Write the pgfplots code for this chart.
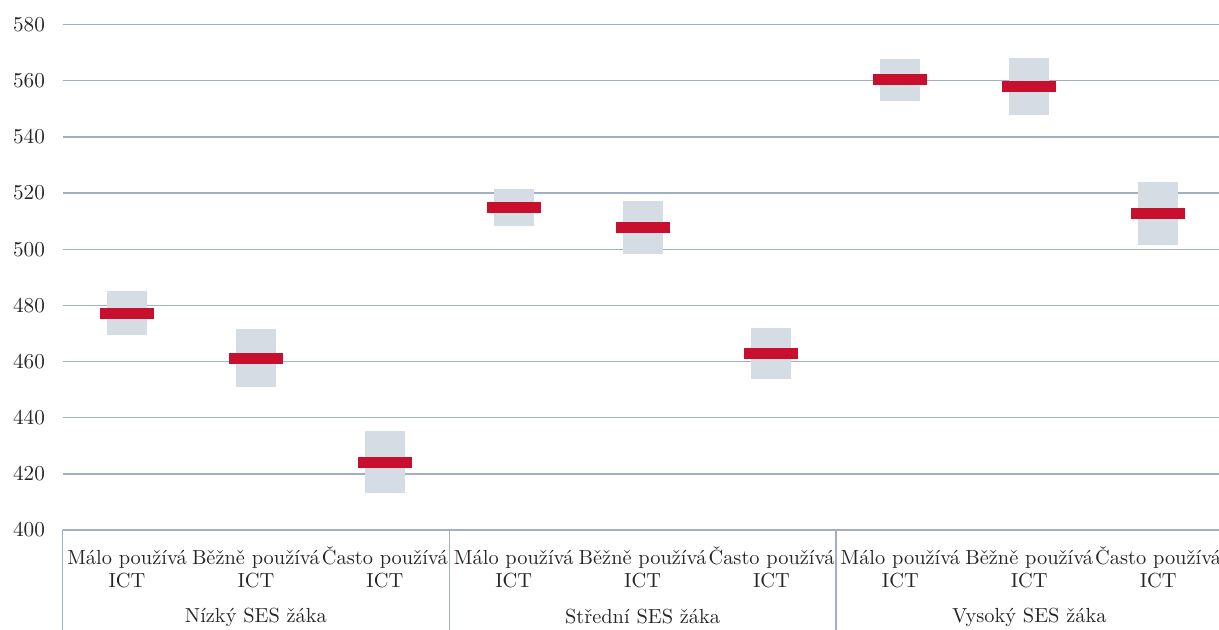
\documentclass[border=0pt]{standalone}
\usepackage{pgfplots}
\pgfplotsset{compat=1.18}
\usepackage{pgfplotstable}
\definecolor{gridc}{HTML}{A2AEC2}
\definecolor{boxc}{HTML}{D6DCE4}
\definecolor{redc}{HTML}{C8102E}
\definecolor{txt}{HTML}{262626}
\pgfplotstableread{
x lo hi mean
1 469.5 485.1 477.2
2 450.8 471.5 461.1
3 413.1 435.3 424.1
4 508.4 521.5 515.0
5 498.2 517.3 507.8
6 453.8 472.1 462.9
7 552.9 567.8 560.5
8 547.9 568.0 558.1
9 501.6 523.8 512.8
}\data
\newcommand{\lab}[1]{\rule{0pt}{10pt}#1\\ICT}
\begin{document}
\begin{tikzpicture}
\begin{axis}[
  scale only axis,
  width=580pt, height=252.65pt,
  xmin=0.5, xmax=9.5, ymin=400, ymax=580,
  ytick={400,420,...,580},
  xtick={1,...,9},
  xticklabels={{\lab{Málo používá}},{\lab{Běžně používá}},{\lab{Často používá}},{\lab{Málo používá}},{\lab{Běžně používá}},{\lab{Často používá}},{\lab{Málo používá}},{\lab{Běžně používá}},{\lab{Často používá}}},
  xticklabel style={align=center, anchor=north, inner sep=0pt, yshift=-7pt, font=\fontsize{10.2}{11.5}\selectfont, text=txt},
  yticklabel style={font=\fontsize{10.6}{13}\selectfont, text=txt, xshift=-5.3pt},
  /pgf/number format/assume math mode=true,
  major tick length=0pt,
  axis line style={draw=none},
  ymajorgrids,
  grid style={gridc, line width=0.65pt},
  clip=false,
]
\addplot[draw=none, mark=none, forget plot,
  error bars/.cd, y dir=both, y explicit, error mark=none,
  error bar style={boxc, line width=20pt}]
  table[x=x, y=mean, y error plus expr=\thisrow{hi}-\thisrow{mean}, y error minus expr=\thisrow{mean}-\thisrow{lo}] {\data};
\addplot[draw=none, mark=-, mark size=13.5pt, mark options={redc, line width=5.5pt}]
  table[x=x, y=mean] {\data};
\foreach \xx in {0.5,3.5,6.5,9.5} {
  \edef\tmp{\noexpand\draw[gridc, line width=0.65pt] (axis cs:\xx,400) -- ([yshift=-52pt]axis cs:\xx,400);}
  \tmp
}
\draw[gridc, line width=0.65pt] (axis cs:0.5,400) -- (axis cs:9.5,400);
\node[font=\fontsize{10.2}{13}\selectfont, text=txt] at ([yshift=-43.5pt]axis cs:2,400) {Nízký SES žáka};
\node[font=\fontsize{10.2}{13}\selectfont, text=txt] at ([yshift=-43.5pt]axis cs:5,400) {Střední SES žáka};
\node[font=\fontsize{10.2}{13}\selectfont, text=txt] at ([yshift=-43.5pt]axis cs:8,400) {Vysoký SES žáka};
\coordinate (tl) at (axis cs:0.5,580);
\coordinate (br) at (axis cs:9.5,400);
\end{axis}
\pgfresetboundingbox
\path ([xshift=-31.3pt,yshift=12.35pt]tl) rectangle ([xshift=-1.8pt,yshift=-50pt]br);
\end{tikzpicture}
\end{document}
